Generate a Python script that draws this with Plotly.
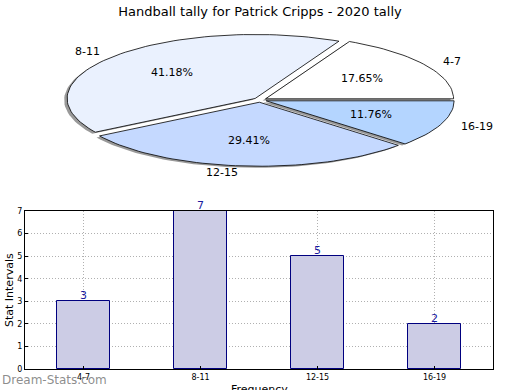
import math
import plotly.graph_objects as go

# ---- data ----
categories = ["4-7", "8-11", "12-15", "16-19"]
counts = [3, 7, 5, 2]
pie_colors = ["#ffffff", "#eaf1fe", "#c5d9ff", "#b4d5ff"]
y_ticks = [0, 1, 2, 3, 4, 5, 6, 7]

title = "Handball tally for Patrick Cripps - 2020 tally"

W, H = 520, 390
# pie geometry (pixel space of the pie axes)
cx, cy, rx, ry = 260, 100, 188, 64
explode = 0.035

fig = go.Figure()

total = sum(counts)
fracs = [c / total for c in counts]


def wedge(t1, t2, dx, dy):
    n = max(8, int((t2 - t1) / 2))
    xs, ys = [cx + dx], [cy + dy]
    for i in range(n + 1):
        t = math.radians(t1 + (t2 - t1) * i / n)
        xs.append(cx + dx + rx * math.cos(t))
        ys.append(cy + dy - ry * math.sin(t))
    xs.append(cx + dx)
    ys.append(cy + dy)
    return xs, ys


angles = []
a = 0.0
for f in fracs:
    angles.append((a, a + 360 * f))
    a += 360 * f

# shadows
for (t1, t2) in angles:
    mid = math.radians((t1 + t2) / 2)
    dx = explode * rx * math.cos(mid) - 0.016 * rx
    dy = -explode * ry * math.sin(mid) + 0.025 * ry
    xs, ys = wedge(t1, t2, dx, dy)
    fig.add_trace(go.Scatter(x=xs, y=ys, mode="lines", fill="toself",
                             fillcolor="rgba(0,0,0,0.4)", line=dict(width=0),
                             hoverinfo="skip", showlegend=False))

annotations = []
for i, (t1, t2) in enumerate(angles):
    mid = math.radians((t1 + t2) / 2)
    dx = explode * rx * math.cos(mid)
    dy = -explode * ry * math.sin(mid)
    xs, ys = wedge(t1, t2, dx, dy)
    fig.add_trace(go.Scatter(x=xs, y=ys, mode="lines", fill="toself",
                             fillcolor=pie_colors[i], line=dict(color="black", width=0.8),
                             hoverinfo="skip", showlegend=False))
    # percent label
    annotations.append(dict(x=cx + dx + 0.6 * rx * math.cos(mid),
                            y=cy + dy - 0.6 * ry * math.sin(mid),
                            xref="x", yref="y", text="%.2f%%" % (fracs[i] * 100),
                            showarrow=False, font=dict(size=11, color="black"),
                            xanchor="center", yanchor="middle"))
    c = math.cos(mid)
    annotations.append(dict(x=cx + dx + 1.1 * rx * c,
                            y=cy + dy - 1.1 * ry * math.sin(mid),
                            xref="x", yref="y", text=categories[i],
                            showarrow=False, font=dict(size=11, color="black"),
                            xanchor="left" if c > 0 else "right", yanchor="middle"))

# bar chart
fig.add_trace(go.Bar(x=list(range(len(categories))), y=counts, width=0.45,
                     marker=dict(color="#ccccE5", line=dict(color="#00007f", width=1)),
                     xaxis="x2", yaxis="y2", showlegend=False, hoverinfo="skip"))
for i, v in enumerate(counts):
    annotations.append(dict(x=i, y=v, xref="x2", yref="y2", text=str(v),
                            showarrow=False, yanchor="bottom", yshift=-3,
                            font=dict(size=11, color="#1a1aa0")))

annotations.append(dict(x=9 / W, y=1 - 290 / H, xref="paper", yref="paper",
                        text="Stat Intervals", textangle=-90, showarrow=False,
                        xanchor="center", yanchor="middle",
                        font=dict(size=11, color="black")))
annotations.append(dict(x=259 / W, y=1 - 389 / H, xref="paper", yref="paper",
                        text="Frequency", showarrow=False, yanchor="middle",
                        font=dict(size=11, color="black")))
annotations.append(dict(x=0, y=1 - 380 / H, xref="paper", yref="paper",
                        text="Dream-Stats.com", showarrow=False,
                        xanchor="left", yanchor="middle",
                        font=dict(size=12, color="rgba(120,120,120,0.85)")))

grid = dict(showgrid=True, gridcolor="#b0b0b0", griddash="1px,2px", gridwidth=1)

fig.update_layout(
    width=W, height=H,
    margin=dict(l=0, r=0, t=0, b=0, autoexpand=False),
    paper_bgcolor="white", plot_bgcolor="rgba(0,0,0,0)",
    font=dict(family="DejaVu Sans", color="black"),
    title=dict(text=title, x=0.5, xanchor="center", y=1 - 11 / H, yanchor="middle",
               yref="container", xref="paper", font=dict(size=13, color="black"),
               automargin=False),
    xaxis=dict(domain=[0, 1], range=[0, W], visible=False, fixedrange=True, automargin=False),
    yaxis=dict(domain=[0, 1], range=[H, 0], visible=False, fixedrange=True, automargin=False),
    xaxis2=dict(domain=[25 / W, 493 / W], range=[-0.5, 3.5], anchor="y2", automargin=False,
                tickmode="array", tickvals=list(range(len(categories))), ticktext=categories,
                tickfont=dict(size=8), showline=True, linecolor="black", mirror=True,
                ticks="inside", ticklen=3, tickcolor="black", zeroline=False, **grid),
    yaxis2=dict(domain=[21 / H, 179 / H], range=[0, 7], anchor="x2", automargin=False,
                tickmode="array", tickvals=y_ticks, tickfont=dict(size=8),
                showline=True, linecolor="black", mirror=True,
                ticks="inside", ticklen=3, tickcolor="black", zeroline=False, **grid),
    annotations=annotations,
    bargap=0,
)

fig.write_html("out.html", config={"displayModeBar": False},
               post_script="document.body.style.margin='0';")
